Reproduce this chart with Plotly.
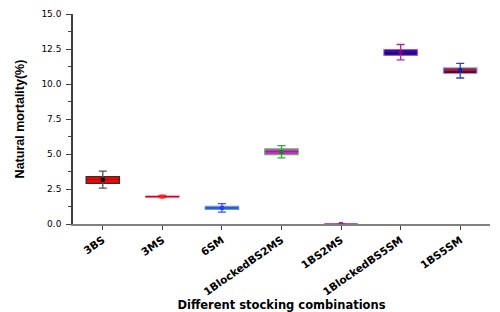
import plotly.graph_objects as go

categories = ["3BS", "3MS", "6SM", "1BlockedBS2MS", "1BS2MS", "1BlockedBS5SM", "1BS5SM"]
q1 = [2.90, 1.92, 1.04, 4.96, 0.0, 12.05, 10.75]
median = [3.18, 1.96, 1.14, 5.16, 0.0, 12.26, 10.97]
q3 = [3.38, 2.00, 1.26, 5.36, 0.0, 12.46, 11.15]
mean = [3.16, 1.96, 1.15, 5.14, 0.0, 12.26, 10.98]
whisk_lo = [2.56, 1.88, 0.85, 4.72, 0.0, 11.72, 10.43]
whisk_hi = [3.77, 2.04, 1.45, 5.60, 0.0, 12.82, 11.47]

fill_colors = ["#ff0000", "#ff2a2a", "#0046c8", "#e020e0", "#8a1a8a", "#000088", "#800000"]
line_colors = ["#303030", "#ff6080", "#7090ff", "#60b060", "#a020a0", "#b050d0", "#9090ff"]
median_colors = ["#a00000", "#d00020", "#106080", "#603060", "#a020a0", "#400080", "#a02040"]
whisk_colors = ["#505050", "#ff3030", "#4050ff", "#40a040", "#a020a0", "#a030a0", "#3040c0"]
mean_colors = ["#000000", "#ff2020", "#2040ff", "#208020", "#a020a0", "#800080", "#1020a0"]

fig = go.Figure()
for i, c in enumerate(categories):
    fig.add_trace(go.Box(
        x=[c], q1=[q1[i]], median=[median[i]], q3=[q3[i]],
        lowerfence=[q1[i]], upperfence=[q3[i]],
        fillcolor=fill_colors[i],
        line=dict(color=line_colors[i], width=1.2),
        whiskerwidth=0, showlegend=False, hoverinfo="skip",
    ))
    fig.add_trace(go.Box(
        x=[c], q1=[median[i]], median=[median[i]], q3=[median[i]],
        lowerfence=[median[i]], upperfence=[median[i]],
        fillcolor="rgba(0,0,0,0)",
        line=dict(color=median_colors[i], width=1.2),
        whiskerwidth=0, showlegend=False, hoverinfo="skip",
    ))
for i, c in enumerate(categories):
    fig.add_trace(go.Scatter(
        x=[c], y=[mean[i]], mode="markers",
        marker=dict(symbol="square", size=4, color=mean_colors[i]),
        error_y=dict(type="data", symmetric=False,
                     array=[whisk_hi[i] - mean[i]],
                     arrayminus=[mean[i] - whisk_lo[i]],
                     color=whisk_colors[i], thickness=1.3, width=4),
        showlegend=False, hoverinfo="skip",
    ))

fig.update_layout(
    width=492, height=304,
    margin=dict(l=65, r=10, t=6, b=88),
    paper_bgcolor="white", plot_bgcolor="white",
    boxgap=0.2, boxmode="overlay",
    font=dict(family="DejaVu Sans, Liberation Sans, Arial, sans-serif", color="black"),
    xaxis=dict(
        categoryorder="array", categoryarray=categories,
        range=[-0.5, 6.5], automargin=False,
        showline=True, linecolor="#808080", linewidth=2,
        ticks="outside", ticklen=4, tickcolor="#404040",
        tickangle=-35, tickfont=dict(size=10.5, family="DejaVu Sans", weight="bold"),
        showgrid=False, zeroline=False,
        title=dict(text="<b>Different stocking combinations</b>",
                   font=dict(size=11.5, family="DejaVu Sans"), standoff=0),
    ),
    yaxis=dict(
        range=[0, 15], automargin=False,
        tickvals=[0, 2.5, 5, 7.5, 10, 12.5, 15],
        ticktext=["0.0", "2.5", "5.0", "7.5", "10.0", "12.5", "15.0"],
        showline=True, linecolor="#404040", linewidth=1.5,
        ticks="outside", ticklen=5, tickcolor="#404040",
        ticklabelstandoff=3, ticklabeloverflow="allow",
        minor=dict(ticks="outside", ticklen=3, tickcolor="#404040", dtick=1.25, tick0=0),
        tickfont=dict(size=9, family="DejaVu Sans"), showgrid=False, zeroline=False,
        title=dict(text="<b>Natural mortality(%)</b>",
                   font=dict(size=12.5, family="Liberation Sans Narrow, Arial Narrow, Liberation Sans"),
                   standoff=14),
    ),
)

fig.write_html("out.html")
